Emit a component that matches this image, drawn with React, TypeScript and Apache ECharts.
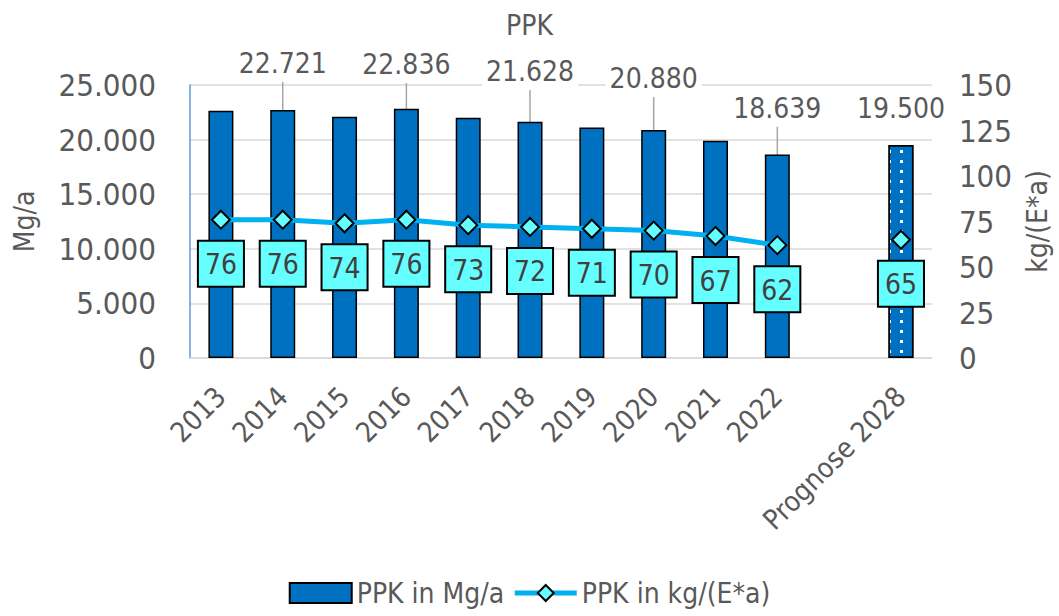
import React, { useEffect, useRef } from "react";
import * as echarts from "echarts";

const categories = ["2013", "2014", "2015", "2016", "2017", "2018", "2019", "2020", "2021", "2022", "", "Prognose 2028"];
const massValues = [22650, 22721, 22100, 22836, 22000, 21628, 21100, 20880, 19900, 18639, null, 19500];
const perCapita = [76, 76, 74, 76, 73, 72, 71, 70, 67, 62, null, 65];
const labelledBars = [1, 3, 5, 7, 9, 11];
const leftTicks = { min: 0, max: 25000, interval: 5000 };
const rightTicks = { min: 0, max: 150, interval: 25 };

const labelShift: Record<number, number> = { 1: -23, 3: -21, 5: -27, 7: -28, 9: -23, 11: -14 };

const FONT = "'Liberation Sans Narrow', 'DejaVu Sans Condensed', Roboto, sans-serif";
const GREY = "#595959";
const W = 300;

function de(v: number): string {
  const s = Math.round(v).toString();
  return s.replace(/\B(?=(\d{3})+(?!\d))/g, ".");
}

export default function App() {
  const ref = useRef<HTMLDivElement>(null);
  useEffect(() => {
    if (!ref.current) return;
    const chart = echarts.init(ref.current, undefined, { renderer: "svg" });
    const barData = massValues.map((v, i) => {
      if (v === null) return null;
      const item: any = { value: v };
      if (labelledBars.includes(i)) item.label = { show: true };
      if (i === categories.length - 1) {
        item.itemStyle = {
          decal: {
            symbol: "rect",
            symbolSize: 1,
            color: "#ffffff",
            dashArrayX: [[3, 9]],
            dashArrayY: [3, 7],
          },
        };
        item.labelLine = { show: false };
      }
      return item;
    });
    chart.setOption({
      animation: false,
      textStyle: { fontFamily: FONT, fontWeight: W },
      title: {
        text: "PPK",
        left: "center",
        top: 6,
        textStyle: { fontFamily: FONT, fontSize: 28, fontWeight: W, color: GREY },
      },
      legend: {
        bottom: 4,
        left: "center",
        itemWidth: 62,
        itemHeight: 20,
        itemGap: 8,
        textStyle: { fontFamily: FONT, fontSize: 28, fontWeight: W, color: GREY },
        data: [
          { name: "PPK in Mg/a", icon: "rect" },
          { name: "PPK in kg/(E*a)", lineStyle: { width: 5, color: "#00B0F0" } },
        ],
      },
      grid: { left: 190, right: 119, top: 85, bottom: 258, containLabel: false },
      xAxis: {
        type: "category",
        data: categories,
        axisLine: { lineStyle: { color: "#D9D9D9", width: 1.5 } },
        axisTick: { show: false },
        axisLabel: { rotate: 45, fontSize: 28, fontWeight: W, color: GREY, fontFamily: FONT, margin: 34, interval: 0 },
      },
      yAxis: [
        {
          type: "value",
          ...leftTicks,
          name: "Mg/a",
          nameLocation: "middle",
          nameRotate: 90,
          nameGap: 152,
          nameTextStyle: { fontSize: 28, fontWeight: W, color: GREY, fontFamily: FONT },
          axisLine: { show: true, lineStyle: { color: "#5B9BD5", width: 1.5 } },
          axisTick: { show: false },
          axisLabel: { fontSize: 31, fontWeight: W, color: GREY, fontFamily: FONT, margin: 34, formatter: (v: number) => de(v) },
          splitLine: { lineStyle: { color: "#D9D9D9", width: 1.5 } },
        },
        {
          type: "value",
          ...rightTicks,
          name: "kg/(E*a)",
          nameLocation: "middle",
          nameRotate: 90,
          nameGap: 88,
          nameTextStyle: { fontSize: 28, fontWeight: W, color: GREY, fontFamily: FONT },
          axisLine: { show: false },
          axisTick: { show: false },
          axisLabel: { fontSize: 31, fontWeight: W, color: GREY, fontFamily: FONT, margin: 27 },
          splitLine: { show: false },
        },
      ],
      series: [
        {
          name: "PPK in Mg/a",
          type: "bar",
          yAxisIndex: 0,
          barWidth: 25,
          data: barData,
          itemStyle: { color: "#0070C0", borderColor: "#000000", borderWidth: 1.5 },
          label: {
            show: false,
            position: "top",
            distance: 5,
            fontSize: 28,
            fontWeight: W,
            color: GREY,
            fontFamily: FONT,
            backgroundColor: "#ffffff",
            padding: [0, 4, 4, 4],
            formatter: (p: any) => de(p.value),
          },
          labelLine: { show: true, lineStyle: { color: "#A6A6A6", width: 1.5 } },
          labelLayout: (p: any) => ({ dy: labelShift[p.dataIndex] ?? 0 }),
        },
        {
          name: "PPK in kg/(E*a)",
          type: "line",
          yAxisIndex: 1,
          data: perCapita,
          connectNulls: false,
          symbol: "diamond",
          symbolSize: 18,
          z: 5,
          lineStyle: { color: "#00B0F0", width: 5 },
          itemStyle: { color: "#66FFFF", borderColor: "#000000", borderWidth: 2 },
          label: {
            show: true,
            position: "bottom",
            distance: 12,
            fontSize: 28,
            fontWeight: W,
            color: "#404040",
            fontFamily: FONT,
            backgroundColor: "#66FFFF",
            borderColor: "#000000",
            borderWidth: 2,
            padding: [9, 6, 7, 6],
          },
        },
      ],
    });
    return () => chart.dispose();
  }, []);
  return <div ref={ref} style={{ width: 1059, height: 616, position: "absolute", left: 0, top: 0 }} />;
}
